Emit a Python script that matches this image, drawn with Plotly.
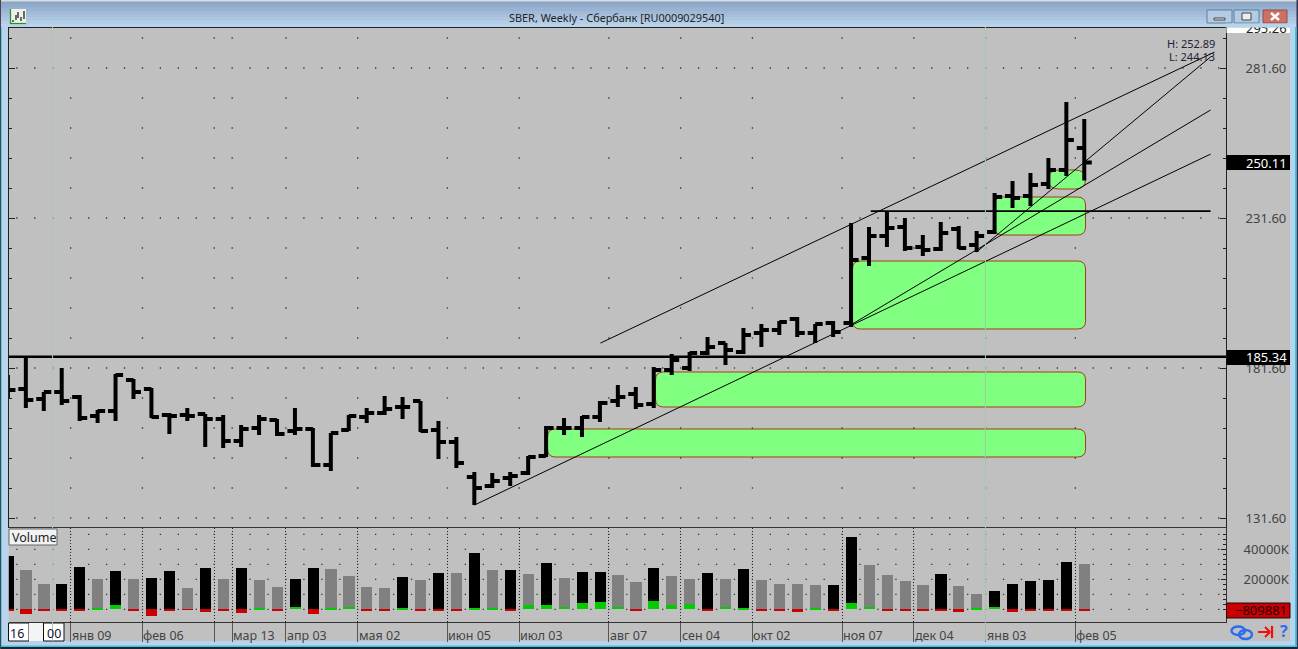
import plotly.graph_objects as go

# ---------- data ----------
OPEN = [174.3,174.6,171.3,173.6,171.9,165.6,167.3,177.6,174.6,165.9,165.9,166.3,164.6,157.3,161.6,164.3,160.6,161.3,149.3,160.9,165.3,166.6,168.6,170.6,160.9,156.9,145.3,142.3,144.9,146.6,152.3,161.6,161.6,165.3,170.6,172.9,169.6,180.9,181.6,186.6,189.9,186.9,193.3,194.3,197.9,193.3,196.6,196.6,218.3,225.6,228.6,221.9,221.3,227.9,222.6,226.9,238.9,238.9,242.9,247.6,254.9]
HIGH = [179.3,185.3,173.6,181.6,172.6,167.6,179.6,177.9,174.9,166.6,168.3,166.3,165.9,162.6,165.9,164.6,168.3,161.6,159.9,165.9,168.3,172.3,171.9,170.6,163.9,158.6,146.9,146.6,146.9,152.3,162.3,164.9,165.6,170.6,175.9,175.3,181.9,186.3,186.9,191.9,189.9,194.9,196.3,197.3,198.6,196.3,197.3,229.9,228.6,233.9,231.6,225.9,230.3,228.9,227.3,239.9,243.9,246.6,251.6,270.3,264.6]
LOW = [171.3,168.3,167.3,169.3,163.9,163.3,163.9,171.3,164.9,159.6,163.9,155.3,154.9,155.3,159.3,158.9,159.3,148.6,147.3,160.6,163.3,165.9,164.6,160.3,151.3,148.3,135.9,141.6,142.3,145.9,151.9,159.3,158.6,163.6,168.6,167.9,168.3,179.3,180.6,185.9,182.6,186.3,188.6,192.6,191.9,189.9,191.9,195.3,215.6,221.9,220.6,218.9,220.6,221.3,220.3,226.3,234.9,235.6,241.3,245.6,244.13]
CLOSE = [174.3,170.9,173.6,170.6,164.9,167.3,179.3,173.6,165.3,165.6,165.6,164.6,157.3,161.3,164.6,159.6,161.3,149.3,159.9,165.6,166.6,167.9,168.6,160.6,156.9,149.9,141.6,143.9,145.6,151.9,161.6,161.6,165.3,169.9,171.9,169.3,180.9,184.3,186.6,188.6,187.6,192.6,194.3,196.9,193.3,196.3,193.6,217.6,225.6,228.3,221.6,220.9,226.6,221.6,225.6,238.6,238.3,242.6,247.6,257.6,250.11]
VOLUME_K = [35700,26200,16900,16900,28200,20200,25500,20200,20900,25500,14200,27500,20200,27500,19500,14900,20200,27500,26900,22200,14900,14200,21500,19500,24200,24200,37500,26200,26200,23500,30900,20900,24900,24900,22900,18200,27500,22200,20200,24200,20200,26900,19500,16900,16900,16200,16200,48200,29500,22900,18900,16200,23500,15500,10200,12200,16900,18900,19500,31500,30200]
VOLUME_BLACK = [1,0,0,1,1,0,1,0,1,1,0,1,0,1,0,0,1,1,0,0,0,0,1,0,1,0,1,0,1,0,1,0,1,1,0,0,1,0,0,1,0,1,0,0,0,0,1,1,0,0,0,0,1,0,0,1,1,1,1,1,0]
DELTA_K = [-1100,-3100,-1100,-500,-1100,900,2900,-1100,-4400,-500,-400,-1800,-1100,-2400,700,-1100,1600,-3100,900,1800,-500,-500,900,-500,-1100,-1100,900,900,-1100,2900,2900,1600,4200,4900,1600,-500,5600,2900,3300,-500,1600,900,-500,-500,-1800,700,-1100,4200,1600,-500,-500,-1100,-1100,-1800,900,1600,-1800,-1100,-500,-500,-1100]
SEPARATORS = [3.5,7.5,11.5,12.5,15.5,19.5,24.5,28.5,33.5,37.5,41.5,46.5,50.5,54.5,59.5]
SEP_LABELS = ["янв 09","фев 06","","мар 13","апр 03","мая 02","июн 05","июл 03","авг 07","сен 04","окт 02","ноя 07","дек 04","янв 03","фев 05"]
PRICE_TICKS = [281.6,231.6,181.6,131.6]
PRICE_MINOR = [291.6,281.6,271.6,261.6,251.6,241.6,231.6,221.6,211.6,201.6,191.6,181.6,171.6,161.6,151.6,141.6,131.6]
VOL_TICKS = [0,10000,20000,30000,40000,50000]
VOL_TICK_TEXT = ["","","20000K","","40000K",""]
VOL_MINOR = [0,3333,6667,10000,13333,16667,20000,23333,26667,30000,33333,36667,40000,43333,46667,50000]
# trend lines: (x0, price0, x1, price1)
TREND = [(26,135.9,67.04,252.9),(33.03,189.9,67.26,286.9),(47,196,67.04,267.6),(54,220.3,67.04,285.3)]
LEVEL_MAIN = 185.34
LEVEL_2 = (48.1,67.04,233.9)
# zones: x0, x1, top, bottom
ZONES = [(30.08,60.07,161.27,151.93),(36.1,60.07,180.27,168.6),(47.08,60.07,217.27,194.6),(55.0,60.07,238.6,225.93),(58.0,60.07,247.6,241.27)]
VLINES = [2.49,54.49]

XR = [0.05,67.9]
W,H = 1298,649
PX = lambda x: x/W
PY = lambda y: 1-y/H
BLUE = "#b9d3ec"
PANEL = "#c0c0c0"
FONT = "Noto Sans"

xs = list(range(len(OPEN)))

def in_zone(x, p):
    return any(z[0] <= x <= z[1] and z[3] <= p <= z[2] for z in ZONES)

dx, dy = [], []
half = [i+0.5 for i in range(0,68)]
for p in PRICE_MINOR:
    for x in (half if p in PRICE_TICKS else SEPARATORS):
        if not in_zone(x,p):
            dx.append(x); dy.append(p)
vdx = [x for v in VOL_TICKS for x in half]
vdy = [v for v in VOL_TICKS for x in half]
DOT = dict(symbol="square",size=1.3,color="#333",line_width=0)

fig = go.Figure()
fig.add_trace(go.Scatter(x=dx,y=dy,mode="markers",marker=DOT,hoverinfo="skip",showlegend=False))
fig.add_trace(go.Scatter(x=vdx,y=vdy,xaxis="x2",yaxis="y2",mode="markers",marker=DOT,hoverinfo="skip",showlegend=False))
fig.add_trace(go.Bar(x=xs,y=VOLUME_K,xaxis="x2",yaxis="y2",width=0.62,marker=dict(color=["#000000" if b else "#808080" for b in VOLUME_BLACK],line_width=0),showlegend=False))
fig.add_trace(go.Bar(x=xs,y=DELTA_K,xaxis="x2",yaxis="y2",width=0.62,marker=dict(color=["#00cc00" if d>0 else "#cc0000" for d in DELTA_K],line_width=0),showlegend=False))
for x0,p0,x1,p1 in TREND:
    fig.add_trace(go.Scatter(x=[x0,x1],y=[p0,p1],mode="lines",line=dict(color="black",width=1),hoverinfo="skip",showlegend=False))
fig.add_trace(go.Scatter(x=XR,y=[LEVEL_MAIN,LEVEL_MAIN],mode="lines",line=dict(color="black",width=2.5),hoverinfo="skip",showlegend=False))
fig.add_trace(go.Scatter(x=LEVEL_2[:2],y=[LEVEL_2[2]]*2,mode="lines",line=dict(color="black",width=1.6),hoverinfo="skip",showlegend=False))
blk = dict(line=dict(color="black",width=4))
fig.add_trace(go.Ohlc(x=xs,open=OPEN,high=HIGH,low=LOW,close=CLOSE,tickwidth=0.42,increasing=blk,decreasing=blk,showlegend=False,hoverinfo="skip"))

shapes = []
def rect(x0,y0,x1,y1,fill,line=None,lw=1,layer="below"):
    shapes.append(dict(type="rect",xref="paper",yref="paper",x0=PX(x0),x1=PX(x1),y0=PY(y0),y1=PY(y1),
                       fillcolor=fill,line=dict(color=line or fill,width=lw if line else 0),layer=layer))
def seg(x0,y0,x1,y1,color,lw=1):
    shapes.append(dict(type="line",xref="paper",yref="paper",x0=PX(x0),x1=PX(x1),y0=PY(y0),y1=PY(y1),line=dict(color=color,width=lw),layer="above"))

# title bar stripes
stripes = ["#8aa5c6","#91acca","#98b2d0","#9fb9d6","#a6c0dc","#adc7e2","#b3cde6","#b9d3ea"]
for i,c in enumerate(stripes):
    rect(0,1+i*3.25,W,1+(i+1)*3.25+0.5,c)
rect(0,0,W,1.5,"#d8dde2")
# side / bottom chrome
rect(0,0,1,H,"#445")
rect(1,27,1.7,H,"#38c6dc")
rect(1296.5,0,W,H,"#335")
rect(1295,27,1296.5,H,"#38c6dc")
rect(1,647,1297,H,"#223")
rect(1,645.5,1297,647,"#38c6dc")
# right label strip and time strip
rect(1226,27,1290,622,PANEL)
rect(8,622,1290,641,PANEL)
# date edit boxes
rect(8.5,623,29,641,"white","#111",1)
rect(29,623,43,641,"#f4f4f4")
rect(43.5,623,64,641,"white","#111",1)
# zones
for x0,x1,t,b in ZONES:
    rx = 0.45 if (t-b) > 8 else 0.6
    ry = 2.7 if (t-b) > 8 else 3.1
    path = (f"M {x0+rx} {t} L {x1-rx} {t} Q {x1} {t} {x1} {t-ry} L {x1} {b+ry} Q {x1} {b} {x1-rx} {b} "
            f"L {x0+rx} {b} Q {x0} {b} {x0} {b+ry} L {x0} {t-ry} Q {x0} {t} {x0+rx} {t} Z")
    shapes.append(dict(type="path",xref="x",yref="y",path=path,fillcolor="#80ff80",line=dict(color="#a04010",width=1),layer="below"))
# vertical pale lines
for v in VLINES:
    shapes.append(dict(type="line",xref="x",yref="paper",x0=v,x1=v,y0=PY(641),y1=PY(27),line=dict(color="#a8c8b0",width=1),layer="above"))
# value boxes
rect(1226.5,27.5,1290,33,"white",None,1,"above")
rect(1226.5,155,1290,170,"black",None,1,"above")
rect(1226.5,350,1290,365,"black",None,1,"above")
rect(1226.5,603,1290,618,"#cc0000","#111",1,"above")
# "Volume" box
rect(9,529,57,545,"#f2f2f2","#666",1,"above")
# window buttons
rect(1207,10,1232,23,"#b4cbe4","#5f7f9f",1,"above"); rect(1214,18,1225,20,"#e8eef4","#444",1,"above")
rect(1234,10,1259,23,"#b4cbe4","#5f7f9f",1,"above"); rect(1242,13,1251,20,"#e8eef4","#444",1,"above")
rect(1263,10,1287,23,"#cf6f62","#8f4f4f",1,"above")
seg(1271,13,1279,20,"white",2.4); seg(1279,13,1271,20,"white",2.4)
# app icon
rect(10,9,26,24,"#eef0ea",None,1,"above")
seg(10.5,9,10.5,24,"#1a9a1a",1.2); seg(10,23.5,26,23.5,"#1a9a1a",1.2)
for x0,y0,y1 in [(13,20,22),(16,15,20),(18,12,18),(21,17,21),(24,11,19)]:
    seg(x0,y0,x0,y1,"#111",1.2)
# chain icon / arrow
for x0,y0,x1,y1 in [(1231.5,626.5,1245,635),(1239,630,1252,639)]:
    shapes.append(dict(type="circle",xref="paper",yref="paper",x0=PX(x0),x1=PX(x1),y0=PY(y0),y1=PY(y1),line=dict(color="#2a6cf0",width=2.4),fillcolor="rgba(0,0,0,0)",layer="above"))
seg(1258,632,1270,632,"#ee1010",2); seg(1265,627,1270,632,"#ee1010",2); seg(1265,637,1270,632,"#ee1010",2); seg(1272,626,1272,638,"#ee1010",2.2)

ann = []
def text(x,y,s,size=12.5,color="#333",anchor="left",**kw):
    ann.append(dict(xref="paper",yref="paper",x=PX(x),y=PY(y),text=s,showarrow=False,xanchor=anchor,yanchor="middle",
                    font=dict(family=FONT,size=size,color=color),**kw))
text(616,18,"SBER, Weekly - Сбербанк [RU0009029540]",size=10.9,color="#222",anchor="center")
text(1217,43,"H: 252.89",size=11,color="#223",anchor="right")
text(1217,57,"L: 244.13",size=11,color="#223",anchor="right")
text(10,537,"Volume",size=12.5,color="#222")
text(8,633,"16",size=12.5,color="#113")
text(45,633,"00",size=12.5,color="#113")
text(1283.5,631,"<b>?</b>",size=16,color="#2a6cf0",anchor="center")
for s,l in zip(SEPARATORS,SEP_LABELS):
    if l:
        ann.append(dict(xref="x2",yref="paper",x=s,y=PY(635),text=l,showarrow=False,xanchor="left",yanchor="middle",xshift=-1,
                        font=dict(family=FONT,size=12.5,color="#444")))
text(1289,162.5,"250.11",size=13,color="white",anchor="right")
text(1289,357,"185.34",size=13,color="white",anchor="right")
text(1289,610,"−809881",size=13,color="#220000",anchor="right")
# clipped top price label, masked by the title bar
text(1288.5,27.5,"295.26",size=13,color="#222",anchor="right")
ann.append(dict(xref="paper",yref="paper",x=PX(1258),y=PY(25.2),text=" ",showarrow=False,xanchor="center",yanchor="middle",width=64,height=3,bgcolor="#b9d3ea",borderpad=0,font=dict(size=2)))

fig.update_layout(
    width=W,height=H,autosize=False,margin=dict(l=0,r=0,t=0,b=0),
    paper_bgcolor=BLUE,plot_bgcolor=PANEL,barmode="overlay",bargap=0,showlegend=False,
    font=dict(family=FONT,size=12.5,color="#333"),
    shapes=shapes,annotations=ann,hovermode=False,
    xaxis=dict(domain=[PX(8.8),PX(1226)],range=XR,type="linear",anchor="y",rangeslider=dict(visible=False),showgrid=False,zeroline=False,
               showticklabels=False,ticks="",showline=True,mirror=True,linecolor="#222",linewidth=1),
    yaxis=dict(domain=[PY(527),PY(27.6)],range=[128.6,295.07],side="right",anchor="x",showgrid=False,zeroline=False,
               tickmode="array",tickvals=PRICE_TICKS,ticktext=["281.60","231.60","181.60","131.60"],ticks="inside",ticklen=6,tickcolor="#222",
               ticklabelstandoff=16,tickfont=dict(size=13,color="#444",family=FONT),showline=True,mirror="ticks",linecolor="#222",linewidth=1,
               minor=dict(tickmode="array",tickvals=PRICE_MINOR,ticks="inside",ticklen=3,tickcolor="#222")),
    xaxis2=dict(domain=[PX(8.8),PX(1226)],range=XR,type="linear",anchor="y2",showgrid=True,gridcolor="#222",gridwidth=1,griddash="1px,2px",zeroline=False,
                tickmode="array",tickvals=SEPARATORS,ticktext=[""]*len(SEPARATORS),ticks="outside",ticklen=19,tickcolor="#555",showline=True,mirror=True,linecolor="#333",linewidth=1),
    yaxis2=dict(domain=[PY(622),PY(528)],range=[-8470,54200],side="right",anchor="x2",showgrid=False,zeroline=False,
                tickmode="array",tickvals=VOL_TICKS,ticktext=VOL_TICK_TEXT,ticks="inside",ticklen=5,tickcolor="#222",ticklabelstandoff=14,
                tickfont=dict(size=13,color="#444",family=FONT),showline=True,linecolor="#333",linewidth=1,
                minor=dict(tickmode="array",tickvals=VOL_MINOR,ticks="inside",ticklen=3,tickcolor="#222")),
)
fig.write_html("out.html",config=dict(displayModeBar=False),post_script="document.body.style.margin='0';document.documentElement.style.overflow='hidden';")
